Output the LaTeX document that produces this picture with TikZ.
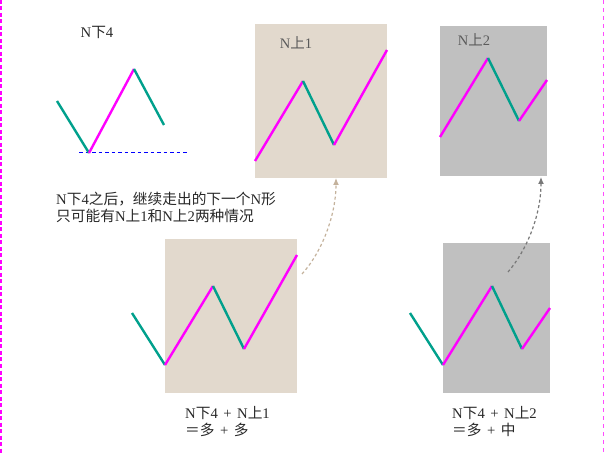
\documentclass[tikz,border=0pt]{standalone}
\usepackage{fontspec}
\setmainfont{Liberation Serif}
\newfontfamily\cjk{Noto Sans CJK SC}
\usepackage{tikz}
\usetikzlibrary{arrows.meta}
\definecolor{nteal}{RGB}{0,160,140}
\definecolor{nmag}{RGB}{255,0,255}
\definecolor{ntan}{RGB}{226,217,205}
\definecolor{ngray}{RGB}{192,192,192}
\definecolor{ntanarr}{RGB}{196,178,156}
\definecolor{ngrayarr}{RGB}{120,120,120}
\definecolor{ntext}{RGB}{40,40,40}
\definecolor{nboxtext}{RGB}{90,90,90}
\newcommand{\nplus}{\hspace{5.5pt}+\hspace{5.5pt}}
\tikzset{
  upleg/.style  ={draw=nmag, line width=2.4pt},
  dnleg/.style  ={draw=nteal, line width=2.4pt},
  tanbox/.style ={fill=ntan, draw=none, inner sep=0pt},
  graybox/.style={fill=ngray, draw=none, inner sep=0pt},
  captext/.style={font=\fontsize{14.7}{17}\selectfont, text=ntext, align=left, inner sep=0pt},
  boxcap/.style ={font=\fontsize{14.5}{17}\selectfont, text=nboxtext, inner sep=0pt},
  tanarr/.style ={draw=ntanarr, line width=1.2pt, dash pattern=on 3pt off 2.5pt,
                  -{Latex[length=7pt,width=6pt,fill=ntanarr]}},
  grayarr/.style={draw=ngrayarr, line width=1.2pt, dash pattern=on 3pt off 2.5pt,
                  -{Latex[length=7pt,width=6pt,fill=ngrayarr]}},
}

\begin{document}
\begin{tikzpicture}[x=1pt,y=-1pt]
  \useasboundingbox (0,0) rectangle (605,454);
  % page edges
  \draw[nmag, line width=2pt, dash pattern=on 4pt off 2.5pt] (1,0) -- (1,454);
  \draw[nmag!70, line width=1.6pt, dash pattern=on 4pt off 4pt] (603.5,0) -- (603.5,454);
  % N down 4
  \node[captext] (n4lbl) at (97,32) {N{\cjk 下}4};
  \draw[blue, line width=1pt, dash pattern=on 3.5pt off 3pt] (79,153) -- (189,153);
  \draw[dnleg] (57,101) -- (89,153);
  \draw[upleg] (89,153) -- (134,69);
  \draw[dnleg] (134,69) -- (164,125);
  \node[captext, anchor=west] (note) at (56,207)
    {N{\cjk 下}4{\cjk 之后，继续走出的下一个}N{\cjk 形}\\
     {\cjk 只可能有}N{\cjk 上}1{\cjk 和}N{\cjk 上}2{\cjk 两种情况}};
  % N up 1
  \node[tanbox, minimum width=132pt, minimum height=154pt] (box1) at (321,101) {};
  \node[boxcap] (t1) at (296,43) {N{\cjk 上}1};
  \draw[upleg] (255,161) -- (303,81);
  \draw[dnleg] (303,81) -- (334,145);
  \draw[upleg] (334,145) -- (387,50);
  % N up 2
  \node[graybox, minimum width=107pt, minimum height=150pt] (box2) at (493.5,101) {};
  \node[boxcap] (t2) at (474,40) {N{\cjk 上}2};
  \draw[upleg] (440,137) -- (488,58);
  \draw[dnleg] (488,58) -- (519,121);
  \draw[upleg] (519,121) -- (547,80);
  % N down 4 + N up 1
  \node[tanbox, minimum width=132pt, minimum height=154pt] (box3) at (231,316) {};
  \draw[dnleg] (132,313) -- (165,365);
  \draw[upleg] (165,365) -- (213,286);
  \draw[dnleg] (213,286) -- (244,349);
  \draw[upleg] (244,349) -- (297,255);
  \node[captext, anchor=west] (lbl1) at (185,422)
    {N{\cjk 下}4\nplus N{\cjk 上}1\\{\cjk ＝多}\nplus{\cjk 多}};
  % N down 4 + N up 2
  \node[graybox, minimum width=107pt, minimum height=150pt] (box4) at (496.5,318) {};
  \draw[dnleg] (410,313) -- (443,365);
  \draw[upleg] (443,365) -- (492,286);
  \draw[dnleg] (492,286) -- (522,349);
  \draw[upleg] (522,349) -- (550,308);
  \node[captext, anchor=west] (lbl2) at (452,422)
    {N{\cjk 下}4\nplus N{\cjk 上}2\\{\cjk ＝多}\nplus{\cjk 中}};
  % arrows back up
  \coordinate (a1s) at (302,274);
  \coordinate (a1e) at (336,178);
  \coordinate (a2s) at (508,272);
  \coordinate (a2e) at (541,177);
  \draw[tanarr] (a1s) .. controls (322,252) and (336,215) .. (a1e);
  \draw[grayarr] (a2s) .. controls (527,250) and (541,215) .. (a2e);
\end{tikzpicture}
\end{document}
